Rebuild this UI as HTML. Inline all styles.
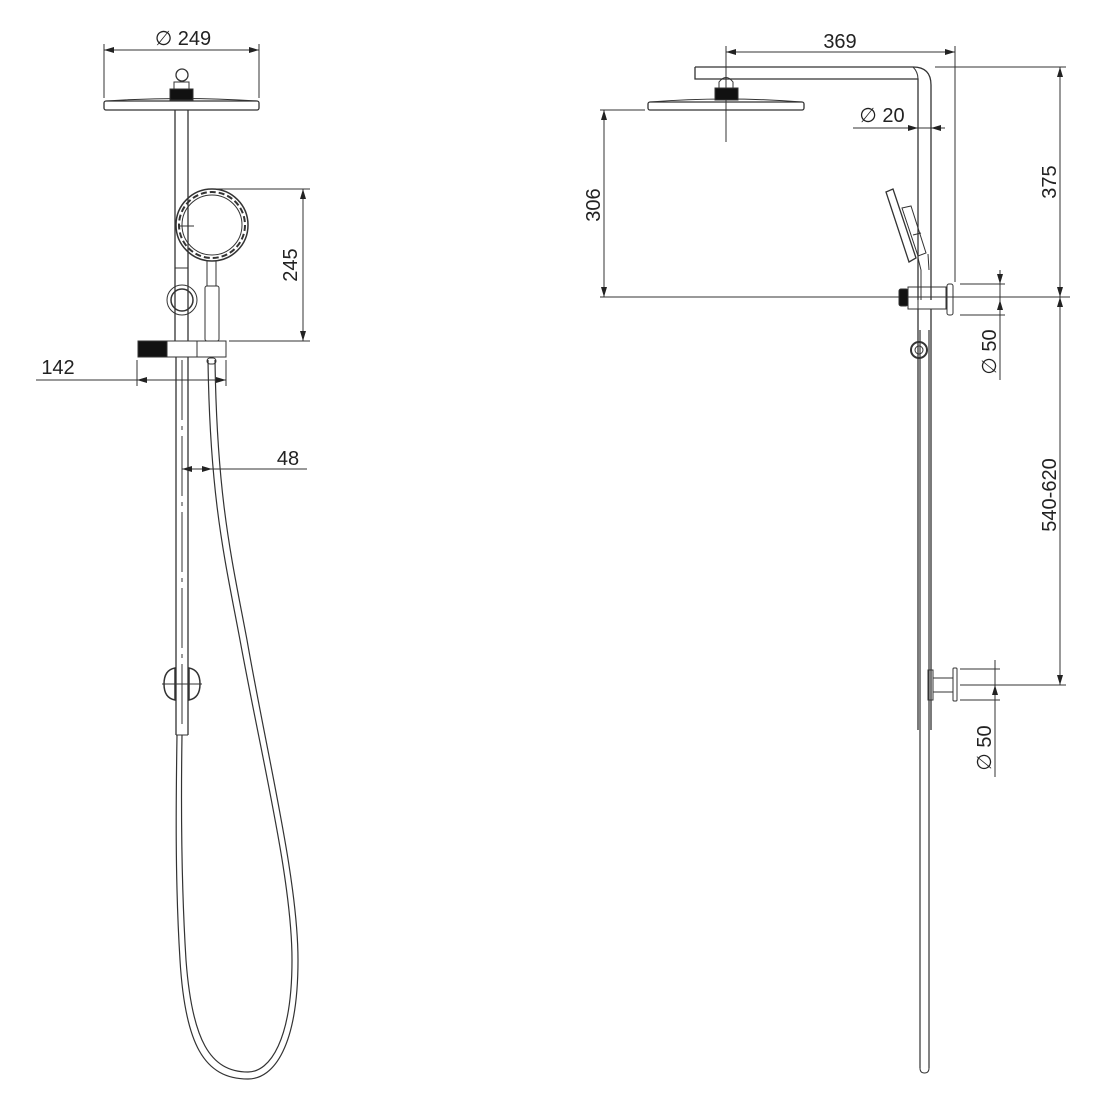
<!DOCTYPE html>
<html><head><meta charset="utf-8"><style>
html,body{margin:0;padding:0;background:#fff;width:1100px;height:1100px;overflow:hidden}
svg{display:block}
text{font-family:"Liberation Sans",sans-serif;fill:#222;font-size:20px}
</style></head><body>
<svg width="1100" height="1100" viewBox="0 0 1100 1100" xmlns="http://www.w3.org/2000/svg">
<defs>
<marker id="a" viewBox="0 0 10 6" refX="10" refY="3" markerWidth="10" markerHeight="6" orient="auto-start-reverse" markerUnits="userSpaceOnUse"><path d="M0,0L10,3L0,6z" fill="#222"/></marker>
</defs>
<g fill="none" stroke="#333" stroke-width="1">
<line x1="104" y1="44" x2="104" y2="98"/><line x1="259" y1="44" x2="259" y2="98"/>
<line x1="104" y1="50" x2="259" y2="50" marker-start="url(#a)" marker-end="url(#a)"/>
<rect x="104" y="101" width="155" height="9" rx="2" stroke-width="1.3"/>
<path d="M106,101 Q182,96 257,101"/>
<rect x="170" y="89" width="23" height="11" fill="#111"/>
<rect x="174" y="82" width="15" height="7"/>
<circle cx="182" cy="75" r="6" stroke-width="1.3"/>
<line x1="175" y1="110" x2="175" y2="341" stroke-width="1.3"/>
<line x1="188" y1="110" x2="188" y2="341" stroke-width="1.3"/>
<line x1="175" y1="268" x2="188" y2="268"/>
<circle cx="212" cy="225" r="36" stroke-width="1.5"/>
<circle cx="212" cy="225" r="33" stroke-width="2" stroke-dasharray="6 3"/>
<circle cx="212" cy="225" r="30"/>
<line x1="180" y1="226" x2="194" y2="226"/>
<rect x="207" y="261" width="9" height="25"/>
<rect x="205" y="286" width="14" height="55" rx="2"/>
<circle cx="182" cy="300" r="15"/><circle cx="182" cy="300" r="11" stroke-width="1.5"/>
<rect x="138" y="341" width="29" height="16" fill="#111"/>
<rect x="167" y="341" width="30" height="16"/>
<rect x="197" y="341" width="29" height="16"/>
<line x1="215" y1="189" x2="310" y2="189"/><line x1="229" y1="341" x2="310" y2="341"/>
<line x1="303" y1="189" x2="303" y2="341" marker-start="url(#a)" marker-end="url(#a)"/>
<line x1="137" y1="360" x2="137" y2="386"/><line x1="226" y1="360" x2="226" y2="386"/>
<line x1="36" y1="380" x2="226" y2="380"/>
<line x1="155" y1="380" x2="137" y2="380" marker-end="url(#a)"/>
<line x1="208" y1="380" x2="226" y2="380" marker-end="url(#a)"/>
<line x1="176" y1="357" x2="176" y2="735" stroke-width="1.3"/>
<line x1="188" y1="357" x2="188" y2="735" stroke-width="1.3"/>
<line x1="182" y1="360" x2="182" y2="730" stroke-dasharray="60 6 4 6"/>
<line x1="176" y1="735" x2="188" y2="735"/>
<path d="M175,668 Q164,670 164,684 Q164,698 175,700 Z" stroke-width="1.5"/>
<path d="M189,668 Q200,670 200,684 Q200,698 189,700 Z" stroke-width="1.5"/>
<line x1="162" y1="684" x2="202" y2="684"/>
<line x1="182" y1="469" x2="307" y2="469"/>
<line x1="198" y1="469" x2="182" y2="469" marker-end="url(#a)"/>
<line x1="196" y1="469" x2="212" y2="469" marker-end="url(#a)"/>
<path d="M208,360 C210,500 225,560 240,640 C262,760 292,880 292,960 C292,1040 270,1072 248,1072 C210,1072 192,1040 186,960 C181,880 181,800 182,735" stroke-width="1.2"/>
<path d="M215,360 C217,500 232,560 247,640 C268,760 298,880 298,960 C298,1046 274,1079 248,1079 C204,1079 185,1044 180,960 C175,880 176,800 177,735" stroke-width="1.2"/>
<rect x="207" y="358" width="9" height="6" rx="3"/>

<line x1="726" y1="46" x2="726" y2="142"/>
<line x1="955" y1="46" x2="955" y2="282"/>
<line x1="726" y1="52" x2="955" y2="52" marker-start="url(#a)" marker-end="url(#a)"/>
<path d="M695,67 H913 Q931,67 931,85 V300" stroke-width="1.3"/>
<path d="M695,67 V79 H918 V300" stroke-width="1.3"/>
<path d="M918,79 Q918,72 913,67"/>
<rect x="648" y="102" width="156" height="8" rx="2" stroke-width="1.3"/>
<path d="M650,102 Q726,96 802,102"/>
<rect x="715" y="88" width="23" height="12" fill="#111"/>
<path d="M719,88 V82 Q726,73 733,82 V88"/>
<line x1="853" y1="128" x2="945" y2="128"/>
<line x1="903" y1="128" x2="918" y2="128" marker-end="url(#a)"/>
<line x1="945" y1="128" x2="931" y2="128" marker-end="url(#a)"/>
<polygon points="886,192 893,189 916,258 909,262" stroke-width="1.3"/>
<polygon points="902,208 911,206 926,253 918,256"/>
<line x1="913" y1="235" x2="921" y2="233"/>
<path d="M918,258 L921,270 V300 M928,254 L929,270"/>
<line x1="600" y1="297" x2="1070" y2="297"/>
<rect x="899" y="289" width="9" height="17" fill="#111" rx="2"/>
<rect x="908" y="287" width="10" height="22"/>
<rect x="918" y="287" width="28" height="22"/>
<rect x="947" y="284" width="6" height="31" rx="2"/>
<line x1="960" y1="284" x2="1005" y2="284"/><line x1="960" y1="315" x2="1005" y2="315"/>
<line x1="1000" y1="284" x2="1000" y2="380"/>
<line x1="1000" y1="270" x2="1000" y2="284" marker-end="url(#a)"/>
<line x1="1000" y1="300" x2="1000" y2="315" marker-start="url(#a)"/>
<line x1="600" y1="110" x2="645" y2="110"/>
<line x1="604" y1="110" x2="604" y2="297" marker-start="url(#a)" marker-end="url(#a)"/>
<line x1="935" y1="67" x2="1066" y2="67"/>
<line x1="1060" y1="67" x2="1060" y2="297" marker-start="url(#a)" marker-end="url(#a)"/>
<line x1="1060" y1="297" x2="1060" y2="685" marker-start="url(#a)" marker-end="url(#a)"/>
<line x1="960" y1="685" x2="1066" y2="685"/>
<line x1="918" y1="309" x2="918" y2="730" stroke-width="1.3"/>
<line x1="931" y1="309" x2="931" y2="730" stroke-width="1.3"/>
<line x1="920" y1="330" x2="920" y2="1068" stroke-width="1.2"/>
<line x1="929" y1="330" x2="929" y2="1068" stroke-width="1.2"/>
<path d="M920,1068 Q920,1073 924.5,1073 Q929,1073 929,1068"/>
<circle cx="919" cy="350" r="8" stroke-width="2"/><circle cx="919" cy="350" r="4"/>
<rect x="928" y="670" width="5" height="30"/>
<rect x="933" y="678" width="20" height="14"/>
<rect x="953" y="668" width="4" height="33" rx="1"/>
<line x1="960" y1="669" x2="1000" y2="669"/><line x1="960" y1="700" x2="1000" y2="700"/>
<line x1="995" y1="660" x2="995" y2="777"/>
<line x1="995" y1="700" x2="995" y2="685" marker-end="url(#a)"/>
</g>
<text x="183" y="45" text-anchor="middle">∅ 249</text>
<text x="58" y="374" text-anchor="middle">142</text>
<text x="288" y="465" text-anchor="middle">48</text>
<text transform="translate(297,265) rotate(-90)" text-anchor="middle">245</text>
<text x="840" y="48" text-anchor="middle">369</text>
<text x="882" y="122" text-anchor="middle">∅ 20</text>
<text transform="translate(600,205) rotate(-90)" text-anchor="middle">306</text>
<text transform="translate(1056,182) rotate(-90)" text-anchor="middle">375</text>
<text transform="translate(1056,495) rotate(-90)" text-anchor="middle">540-620</text>
<text transform="translate(996,352) rotate(-90)" text-anchor="middle">∅ 50</text>
<text transform="translate(991,748) rotate(-90)" text-anchor="middle">∅ 50</text>
</svg>
</body></html>
